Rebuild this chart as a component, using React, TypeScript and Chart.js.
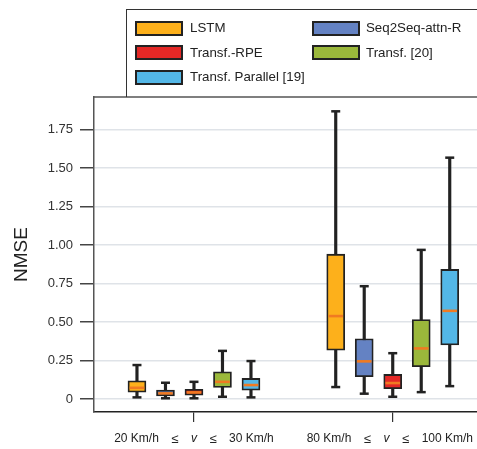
import React, { useEffect, useRef } from 'react';
import { Chart, registerables } from 'chart.js';

Chart.register(...registerables);

// ---------- data ----------
const categories = ['20 Km/h ≤ v ≤ 30 Km/h', '80 Km/h ≤ v ≤ 100 Km/h'];
const speedLow = ['20 Km/h', '80 Km/h'];
const speedHigh = ['30 Km/h', '100 Km/h'];
const models = ['LSTM', 'Seq2Seq-attn-R', 'Transf.-RPE', 'Transf. [20]', 'Transf. Parallel [19]'];
const colors = ['#FDB01B', '#6482C3', '#E42826', '#9BB83B', '#53B7E7'];
// [model][category]
const whiskerLow = [[0.011, 0.078], [0.005, 0.035], [0.005, 0.015], [0.015, 0.045], [0.011, 0.084]];
const q1 = [[0.045, 0.318], [0.021, 0.145], [0.026, 0.067], [0.076, 0.21], [0.058, 0.352]];
const medians = [[0.073, 0.539], [0.037, 0.245], [0.043, 0.104], [0.112, 0.329], [0.091, 0.573]];
const q3 = [[0.119, 0.941], [0.058, 0.392], [0.063, 0.16], [0.177, 0.517], [0.134, 0.842]];
const whiskerHigh = [[0.221, 1.869], [0.106, 0.733], [0.112, 0.298], [0.313, 0.969], [0.247, 1.568]];
const yTicks = [0, 0.25, 0.5, 0.75, 1.0, 1.25, 1.5, 1.75];

const FONT = "'Liberation Sans', Arial, Helvetica, sans-serif";
const BOX_STEP = 0.1434;
const xOf = (m: number, c: number) => c + (m - (models.length - 1) / 2) * BOX_STEP;

const framePlugin = {
  id: 'frameAndLabels',
  afterDraw(chart: any) {
    const { ctx, chartArea, scales } = chart;
    ctx.save();
    // top frame line
    ctx.strokeStyle = '#555';
    ctx.lineWidth = 1.5;
    ctx.beginPath();
    ctx.moveTo(chartArea.left - 0.75, chartArea.top);
    ctx.lineTo(chart.width, chartArea.top);
    ctx.stroke();
    // x category labels with italic v
    const y = chartArea.bottom + 27;
    ctx.fillStyle = '#222';
    ctx.textBaseline = 'middle';
    const gap = 12.5;
    categories.forEach((_, i) => {
      const cx = scales.x.getPixelForValue(i);
      const parts = [
        { t: speedLow[i], f: `12px ${FONT}` },
        { t: '≤', f: `13px ${FONT}` },
        { t: 'v', f: `italic 12px ${FONT}` },
        { t: '≤', f: `13px ${FONT}` },
        { t: speedHigh[i], f: `12px ${FONT}` },
      ];
      const widths = parts.map((p) => {
        ctx.font = p.f;
        return ctx.measureText(p.t).width;
      });
      const total = widths.reduce((a, b) => a + b, 0) + gap * (parts.length - 1);
      let x = Math.min(cx - total / 2, chart.width - 4 - total);
      ctx.textAlign = 'left';
      parts.forEach((p, k) => {
        ctx.font = p.f;
        ctx.fillText(p.t, x, y);
        x += widths[k] + gap;
      });
    });
    ctx.restore();
  },
};

export default function App() {
  const ref = useRef<HTMLCanvasElement | null>(null);

  useEffect(() => {
    document.body.style.margin = '0';
    if (!ref.current) return;

    const whiskers: any[] = [];
    const caps: any[] = [];
    const meds: any[] = [];
    models.forEach((_, m) => {
      categories.forEach((__, c) => {
        const x = xOf(m, c);
        whiskers.push({ x, y: [whiskerLow[m][c], whiskerHigh[m][c]] });
        caps.push({ x, y: whiskerLow[m][c] });
        caps.push({ x, y: whiskerHigh[m][c] });
        meds.push({ x, y: medians[m][c] });
      });
    });

    const boxSets = models.map((name, m) => ({
      type: 'bar',
      label: name,
      data: categories.map((_, c) => ({ x: xOf(m, c), y: [q1[m][c], q3[m][c]] })),
      backgroundColor: colors[m],
      borderColor: '#222',
      borderWidth: 1.8,
      borderSkipped: false,
      barThickness: 18,
      grouped: false,
      order: 3,
    }));

    const chart = new Chart(ref.current, {
      type: 'bar',
      data: {
        datasets: [
          {
            type: 'scatter',
            label: 'median',
            data: meds,
            pointStyle: 'line',
            pointRadius: 7.3,
            borderColor: '#F07A22',
            backgroundColor: '#F07A22',
            borderWidth: 2.6,
            order: 1,
          } as any,
          {
            type: 'scatter',
            label: 'caps',
            data: caps,
            pointStyle: 'line',
            pointRadius: 4.5,
            borderColor: '#222',
            backgroundColor: '#222',
            borderWidth: 2.5,
            order: 2,
          } as any,
          ...boxSets,
          {
            type: 'bar',
            label: 'whiskers',
            data: whiskers,
            backgroundColor: '#222',
            borderWidth: 0,
            barThickness: 2.5,
            grouped: false,
            order: 4,
          } as any,
        ],
      },
      options: {
        responsive: false,
        animation: false,
        devicePixelRatio: 1,
        events: [],
        clip: false,
        layout: { autoPadding: false, padding: { top: 97, left: 0, right: 0, bottom: 0 } },
        plugins: { legend: { display: false }, tooltip: { enabled: false } },
        scales: {
          x: {
            type: 'linear',
            position: 'bottom',
            offset: false,
            min: -0.503,
            max: 1.424,
            afterBuildTicks: (s: any) => {
              s.ticks = categories.map((_, i) => ({ value: i }));
            },
            afterFit: (s: any) => {
              s.height = 37;
            },
            ticks: { display: false },
            grid: {
              offset: false,
              drawOnChartArea: false,
              drawTicks: true,
              tickLength: 10,
              tickColor: '#333',
              lineWidth: 1.2,
            },
            border: { display: true, color: '#222', width: 1.5 },
          },
          y: {
            type: 'linear',
            min: -0.084,
            max: 1.962,
            afterBuildTicks: (s: any) => {
              s.ticks = yTicks.map((v) => ({ value: v }));
            },
            afterFit: (s: any) => {
              s.width = 94;
            },
            ticks: {
              callback: (v: any) => (Number(v) === 0 ? '0' : Number(v).toFixed(2)),
              font: { family: FONT, size: 13 },
              color: '#333',
              padding: 7,
            },
            grid: {
              color: '#dfe3e8',
              lineWidth: 1.5,
              drawTicks: true,
              tickLength: 14,
              tickColor: '#444',
            },
            border: { display: true, color: '#555', width: 1.5 },
            title: {
              display: true,
              text: 'NMSE',
              font: { family: FONT, size: 19 },
              color: '#222',
              padding: { top: 10, bottom: 0 },
            },
          },
        },
      } as any,
      plugins: [framePlugin],
    } as any);

    return () => chart.destroy();
  }, []);

  const legendRows = [28, 52.5, 77];
  const legendCols = [{ sw: 135, tx: 190 }, { sw: 312, tx: 366 }];

  return (
    <div style={{ position: 'relative', width: 477, height: 449, overflow: 'hidden' }}>
      <canvas ref={ref} width={477} height={449} style={{ display: 'block', width: 477, height: 449 }} />
      <div
        style={{
          position: 'absolute',
          left: 126,
          top: 9,
          width: 400,
          height: 88,
          boxSizing: 'border-box',
          borderTop: '1.5px solid #333',
          borderLeft: '1.5px solid #333',
        }}
      />
      {models.map((name, i) => {
        const col = legendCols[i % 2];
        const rowY = legendRows[Math.floor(i / 2)];
        return (
          <React.Fragment key={name}>
            <div
              style={{
                position: 'absolute',
                left: col.sw,
                top: rowY - 7.5,
                width: 48,
                height: 15,
                boxSizing: 'border-box',
                background: colors[i],
                border: '2px solid #222',
              }}
            />
            <div
              style={{
                position: 'absolute',
                left: col.tx,
                top: rowY - 9,
                height: 18,
                lineHeight: '18px',
                fontFamily: FONT,
                fontSize: 13.3,
                color: '#222',
                whiteSpace: 'nowrap',
              }}
            >
              {name}
            </div>
          </React.Fragment>
        );
      })}
    </div>
  );
}
